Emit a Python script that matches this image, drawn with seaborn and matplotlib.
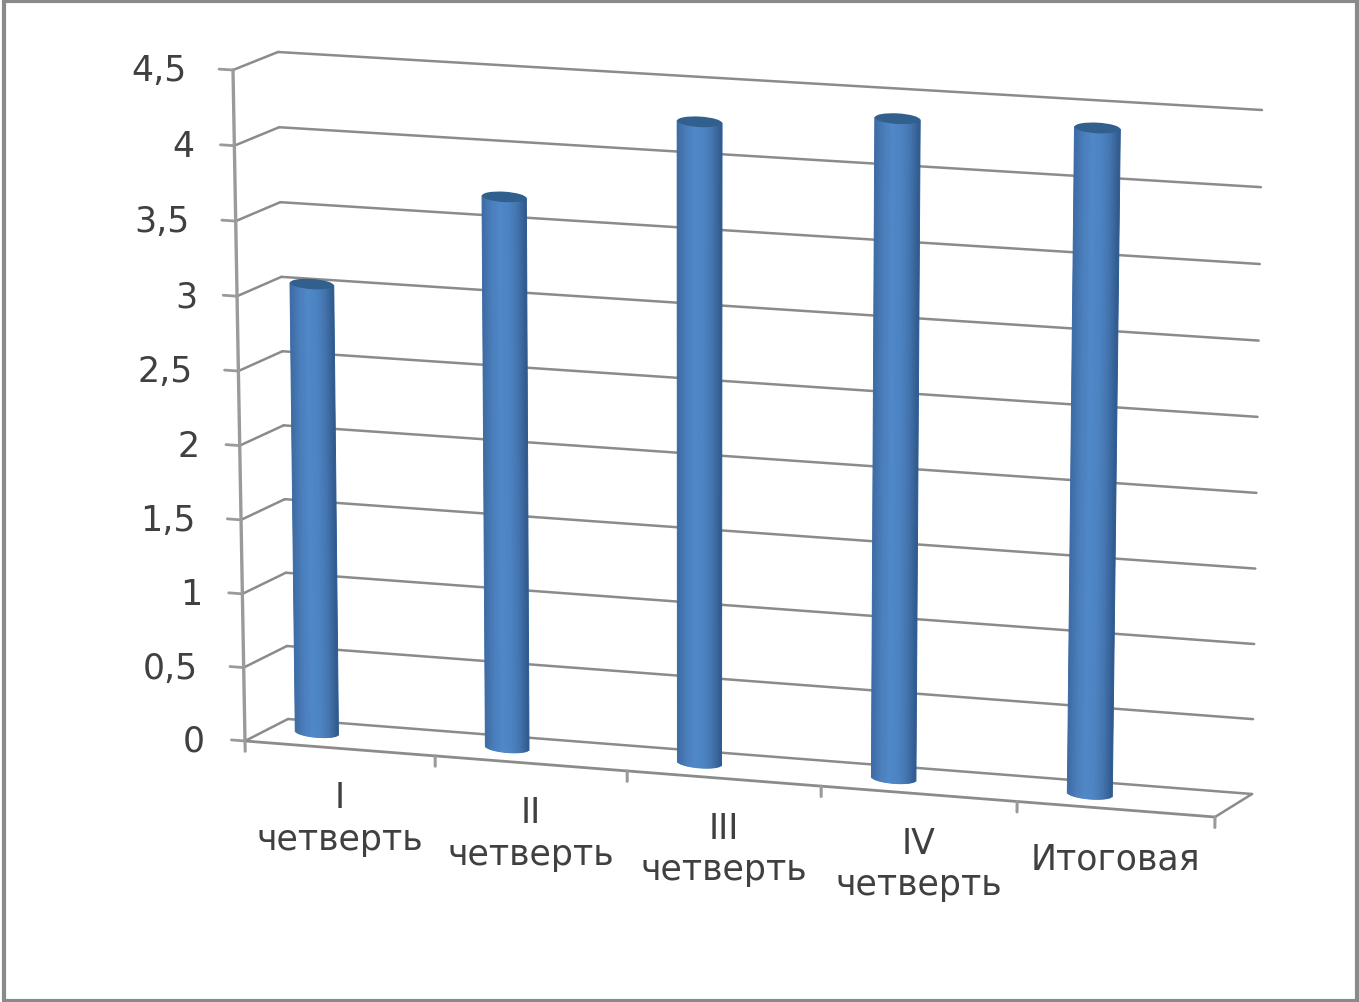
import numpy as np
import pandas as pd
import matplotlib
matplotlib.use("Agg")
import matplotlib.pyplot as plt
import matplotlib.transforms as mtrans
from matplotlib.colors import LinearSegmentedColormap
from matplotlib.patches import Ellipse, Rectangle
import seaborn as sns

categories = ["I\nчетверть", "II\nчетверть", "III\nчетверть", "IV\nчетверть", "Итоговая"]
values = [3.0, 3.65, 4.21, 4.30, 4.31]
y_ticks = [0, 0.5, 1, 1.5, 2, 2.5, 3, 3.5, 4, 4.5]
y_labels = ["0", "0,5", "1", "1,5", "2", "2,5", "3", "3,5", "4", "4,5"]

GRID = "#8b8b8b"
AXIS = "#9a9a9a"
TEXT = "#404040"
FRAME = "#8a8a8a"
CAP = "#31608f"
cyl = LinearSegmentedColormap.from_list(
    "cyl", ["#3d6ba3", "#4a7dba", "#5088c8", "#4d84c3", "#4475ae", "#2f5a8e"])

W, H = 1359, 1003
YMAX = 4.5
BOW_B = -0.017
BOW_A = -0.025


class Plane(mtrans.Transform):
    """Bilinear map of a chart plane to the picture, standing in for the 3-D projection."""
    input_dims = output_dims = 2
    is_affine = False
    has_inverse = False

    def __init__(self, a_rng, b_rng, ll, lr, ul, ur, warp_a=True, warp_b=True):
        super().__init__()
        self.a_rng, self.b_rng = a_rng, b_rng
        self.c = [np.array(p, float) for p in (ll, lr, ul, ur)]
        self.warp_a, self.warp_b = warp_a, warp_b

    def transform_non_affine(self, xy):
        xy = np.asarray(xy, float)
        s = (xy[:, 0] - self.a_rng[0]) / (self.a_rng[1] - self.a_rng[0])
        t = (xy[:, 1] - self.b_rng[0]) / (self.b_rng[1] - self.b_rng[0])
        if self.warp_a:
            s = s + BOW_A * s * (1 - s)
        if self.warp_b:
            t = t + BOW_B * t * (1 - t)
        ll, lr, ul, ur = self.c
        s, t = s[:, None], t[:, None]
        return (1 - s) * (1 - t) * ll + s * (1 - t) * lr + (1 - s) * t * ul + s * t * ur


sns.set_theme(style="white")
plt.rcParams["font.family"] = ["DejaVu Sans"]
fig = plt.figure(figsize=(W / 100, H / 100), dpi=100, facecolor="white")
ax = fig.add_axes([0, 0, 1, 1])
base = ax.transData

U = (-0.5, 4.5)
V = (0, YMAX)
bars_plane = Plane(U, V, (222.4, 725.8), (1188.6, 802.7), (213, 52), (1198.5, 104.5))
back = Plane(U, V, (288, 720), (1252, 795), (278, 53), (1262, 111))
front = Plane(U, V, (245, 742), (1215, 818), (233, 71), (1225, 134))
left = Plane((0, 1), V, (245, 742), (288, 720), (233, 71), (278, 53), warp_a=False)
floor = Plane(U, (0, 1), (245, 742), (1215, 818), (288, 720), (1252, 795), warp_b=False)

ax.transData = bars_plane + base

BAR_W = 0.228
CAP_H = 0.034
df = pd.DataFrame({"cat": categories, "val": values})
sns.barplot(data=df, x="cat", y="val", color="#4a7dba", saturation=1, width=BAR_W,
            errorbar=None, ax=ax, zorder=5, linewidth=0)

# cylinder shading, rounded foot and cap
N = 30
edges = np.linspace(-1, 1, N + 1)
mids = (edges[:-1] + edges[1:]) / 2
for i, v in enumerate(values):
    for m, e0, e1 in zip(mids, edges[:-1], edges[1:]):
        foot = CAP_H * np.sqrt(max(0.0, 1 - m ** 2))
        col = cyl((m + 1) / 2)
        ax.bar(i + m * BAR_W / 2, v + foot, bottom=-foot, width=(e1 - e0) * BAR_W / 2,
               color=col, edgecolor=col, linewidth=0.7, zorder=6)
    ax.add_patch(Ellipse((i, v), BAR_W, 2 * CAP_H, facecolor=CAP, edgecolor="none", zorder=7))

# walls
for v in y_ticks:
    ax.plot([0, 1], [v, v], transform=left + base, color=GRID, lw=1.8, zorder=2)
    ax.plot(U, [v, v], transform=back + base, color=GRID, lw=1.8, zorder=2)
    ax.plot([U[0] - 0.072, U[0]], [v, v], transform=front + base, color=AXIS, lw=2, zorder=3)

ax.plot([U[0], U[0]], V, transform=front + base, color=AXIS, lw=2.4, zorder=3)
ax.plot(U, [0, 0], transform=floor + base, color=GRID, lw=2, zorder=3)
ax.plot([U[1], U[1]], [0, 1], transform=floor + base, color=GRID, lw=1.8, zorder=3)
for k in range(len(categories) + 1):
    ax.plot([k - 0.5, k - 0.5], [0, -0.07], transform=front + base, color=AXIS, lw=2.2, zorder=3)

FS = 25
for v, lab in zip(y_ticks, y_labels):
    ax.annotate(lab, xy=(0, v), xycoords=left + base,
                xytext=(-46 if "," in lab else -40, 0),
                textcoords="offset pixels", ha="right", va="center",
                fontsize=FS, color=TEXT)
for i, lab in enumerate(categories):
    ax.annotate(lab, xy=(i, 0), xycoords=floor + base, xytext=(0, -32),
                textcoords="offset pixels", ha="center", va="top",
                fontsize=FS, color=TEXT, linespacing=1.27, multialignment="center")

ax.set_xlim(0, W)
ax.set_ylim(H, 0)
ax.axis("off")

fig.add_artist(Rectangle((4 / W, 1 / H), (W - 6) / W, (H - 3) / H, transform=fig.transFigure,
                         fill=False, edgecolor=FRAME, linewidth=3))
fig.savefig("out.png", dpi=100, facecolor="white")
